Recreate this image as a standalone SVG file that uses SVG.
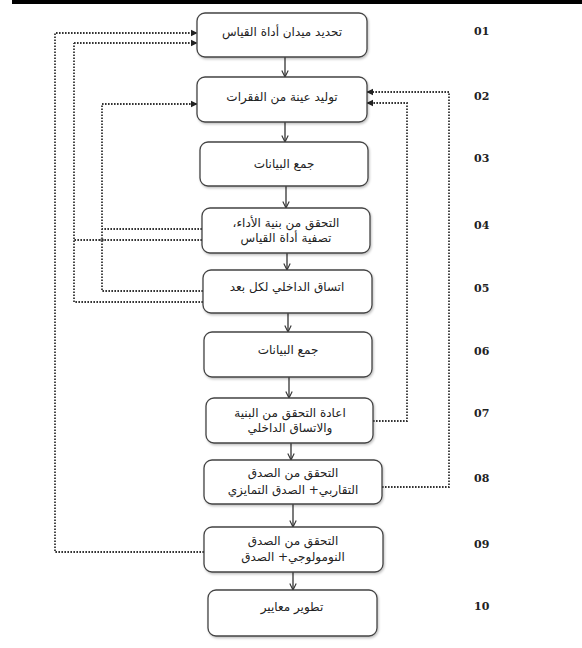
<svg xmlns="http://www.w3.org/2000/svg" width="582" height="648" viewBox="0 0 582 648">
<style>
.box{fill:#fff;stroke:#444;stroke-width:1.3}
.t{font-family:"DejaVu Sans",sans-serif;font-size:12px;fill:#222;text-anchor:middle;direction:rtl}
.n{font-family:"DejaVu Serif",serif;font-size:11px;font-weight:bold;fill:#222}
.flow{stroke:#333;stroke-width:1.3;fill:none;marker-end:url(#open)}
.dot{stroke:#333;stroke-width:1.8;fill:none;stroke-dasharray:1.6 1.4}
.dota{stroke:#333;stroke-width:1.8;fill:none;stroke-dasharray:1.6 1.4;marker-end:url(#tri)}
</style>
<defs>
<marker id="open" viewBox="0 0 10 10" refX="9" refY="5" markerWidth="8" markerHeight="8" markerUnits="userSpaceOnUse" orient="auto">
<path d="M1,1 L9,5 L1,9" fill="none" stroke="#333" stroke-width="1.4"/>
</marker>
<marker id="tri" viewBox="0 0 10 10" refX="9" refY="5" markerWidth="4" markerHeight="4" orient="auto">
<path d="M0,0 L10,5 L0,10 Z" fill="#222"/>
</marker>
<filter id="sh" x="-5%" y="-5%" width="115%" height="120%">
<feDropShadow dx="1" dy="1.5" stdDeviation="1" flood-color="#000" flood-opacity="0.25"/>
</filter>
</defs>
<rect x="12" y="0" width="570" height="4" fill="#000"/>

<g id="connectors">
<path class="flow" d="M285,57 V77"/>
<path class="flow" d="M285,122 V142"/>
<path class="flow" d="M286,186 V208"/>
<path class="flow" d="M287,253 V270"/>
<path class="flow" d="M288,313 V332"/>
<path class="flow" d="M289,377 V398"/>
<path class="flow" d="M291,443 V460"/>
<path class="flow" d="M293,504 V527"/>
<path class="flow" d="M293,572 V590"/>

<path class="dota" d="M204,552 H55 V33 H197"/>
<path class="dot" d="M203,302 H74 V43"/>
<path class="dota" d="M74,43 H197"/>
<path class="dot" d="M202,240 H74"/>
<path class="dot" d="M203,291 H102 V104"/>
<path class="dota" d="M102,104 H197"/>
<path class="dot" d="M202,229 H102"/>
<circle cx="102" cy="240" r="1.6" fill="none" stroke="#555" stroke-width="0.8"/>
<path class="dota" d="M382,487 H449 V92 H367"/>
<path class="dota" d="M373,421 H407 V103 H367"/>
</g>

<g id="n01"><rect class="box" filter="url(#sh)" x="197" y="13" width="170" height="44" rx="8"/><text class="t" x="282" y="36">تحديد ميدان أداة القياس</text><text class="n" x="474" y="35">01</text></g>
<g id="n02"><rect class="box" filter="url(#sh)" x="197" y="77" width="170" height="45" rx="8"/><text class="t" x="282" y="101">توليد عينة من الفقرات</text><text class="n" x="474" y="100">02</text></g>
<g id="n03"><rect class="box" filter="url(#sh)" x="200" y="142" width="168" height="44" rx="8"/><text class="t" x="284" y="168">جمع البيانات</text><text class="n" x="474" y="162">03</text></g>
<g id="n04"><rect class="box" filter="url(#sh)" x="202" y="208" width="168" height="45" rx="8"/><text class="t" x="286" y="227">التحقق من بنية الأداء،</text><text class="t" x="286" y="242">تصفية أداة القياس</text><text class="n" x="474" y="229">04</text></g>
<g id="n05"><rect class="box" filter="url(#sh)" x="203" y="270" width="169" height="43" rx="8"/><text class="t" x="287" y="291">اتساق الداخلي لكل بعد</text><text class="n" x="474" y="292">05</text></g>
<g id="n06"><rect class="box" filter="url(#sh)" x="204" y="332" width="168" height="45" rx="8"/><text class="t" x="288" y="354">جمع البيانات</text><text class="n" x="474" y="355">06</text></g>
<g id="n07"><rect class="box" filter="url(#sh)" x="206" y="398" width="167" height="45" rx="8"/><text class="t" x="290" y="417">اعادة التحقق من البنية</text><text class="t" x="290" y="432">والاتساق الداخلي</text><text class="n" x="474" y="417">07</text></g>
<g id="n08"><rect class="box" filter="url(#sh)" x="204" y="460" width="178" height="44" rx="8"/><text class="t" x="293" y="477">التحقق من الصدق</text><text class="t" x="293" y="494">التقاربي+ الصدق التمايزي</text><text class="n" x="474" y="482">08</text></g>
<g id="n09"><rect class="box" filter="url(#sh)" x="204" y="527" width="179" height="45" rx="8"/><text class="t" x="293" y="545">التحقق من الصدق</text><text class="t" x="293" y="561">النومولوجي+ الصدق</text><text class="n" x="474" y="548">09</text></g>
<g id="n10"><rect class="box" filter="url(#sh)" x="208" y="590" width="169" height="46" rx="8"/><text class="t" x="292" y="611">تطوير معايير</text><text class="n" x="474" y="610">10</text></g>
</svg>
